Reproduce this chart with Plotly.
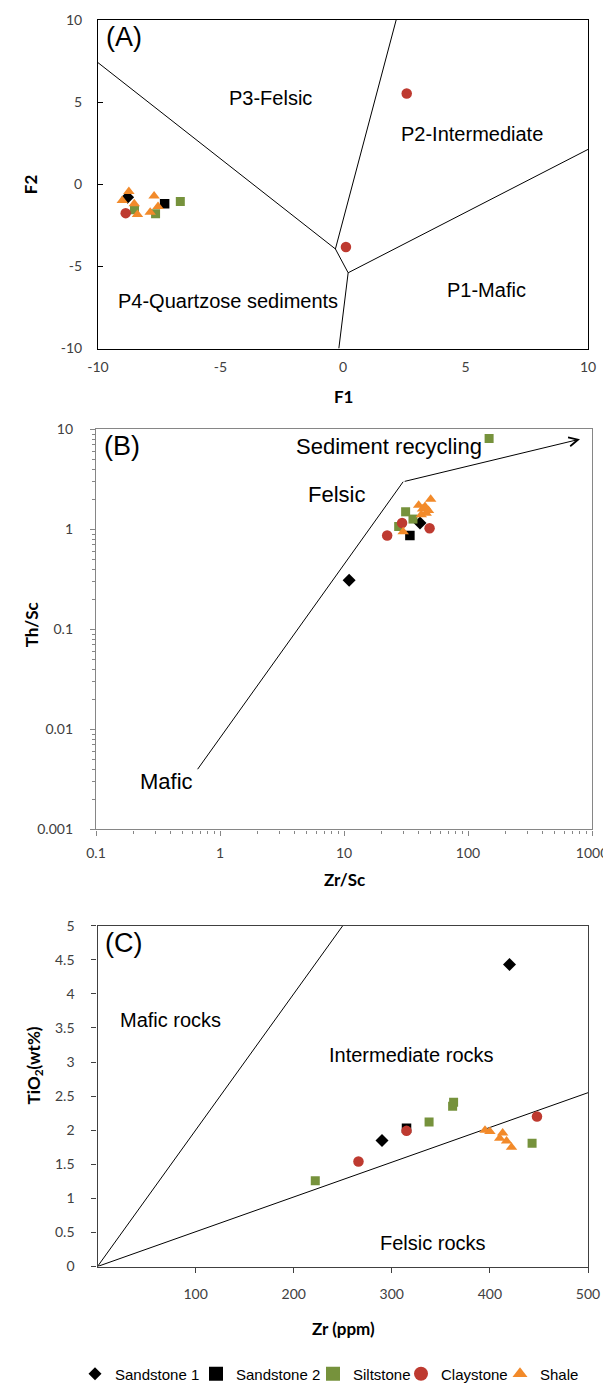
import numpy as np
import plotly.graph_objects as go

W, H = 611, 1383

# ---------------- Panel A: discriminant functions F1 / F2 ----------------
A_sand1_f1 = [-8.79]
A_sand1_f2 = [-0.79]
A_sand2_f1 = [-7.28]
A_sand2_f2 = [-1.19]
A_silt_f1 = [-6.64, -8.51, -7.65]
A_silt_f2 = [-1.05, -1.56, -1.80]
A_clay_f1 = [2.60, 0.12, -8.87]
A_clay_f2 = [5.52, -3.82, -1.76]
A_shale_f1 = [-8.74, -9.01, -8.52, -8.39, -7.71, -7.55, -7.87]
A_shale_f2 = [-0.44, -0.99, -1.19, -1.84, -0.71, -1.35, -1.70]

A_bound_f1 = [-10, -0.31, 2.17, None, -0.31, 0.21, 10, None, 0.21, -0.17]
A_bound_f2 = [7.4, -3.94, 10, None, -3.94, -5.39, 2.12, None, -5.39, -10]
A_ticks = [-10, -5, 0, 5, 10]
A_ticktext = ["-10", "-5", "0", "5", "10"]
A_labels = ["P3-Felsic", "P2-Intermediate", "P1-Mafic", "P4-Quartzose sediments"]
A_label_f1 = [-2.94, 5.27, 5.85, -4.70]
A_label_f2 = [5.27, 3.03, -6.42, -7.09]

# ---------------- Panel B: Th/Sc vs Zr/Sc ----------------
B_sand1_zr = [41, 11]
B_sand1_th = [1.16, 0.31]
B_sand2_zr = [34]
B_sand2_th = [0.87]
B_silt_zr = [148, 31.4, 36, 27.6]
B_silt_th = [8.1, 1.5, 1.27, 1.07]
B_clay_zr = [22.3, 29.4, 49]
B_clay_th = [0.87, 1.16, 1.03]
B_shale_zr = [50, 40, 43, 46, 48, 42, 45, 30]
B_shale_th = [2.0, 1.75, 1.6, 1.45, 1.55, 1.4, 1.7, 0.95]

B_bound_zr = [0.66, 30]
B_bound_th = [0.004, 3]
B_arrow_zr = [30, 800]
B_arrow_th = [3, 8]
B_yticks = [0.001, 0.01, 0.1, 1, 10]
B_yticktext = ["0.001", "0.01", "0.1", "1", "10"]
B_xticks = [0.1, 1, 10, 100, 1000]
B_xticktext = ["0.1", "1", "10", "100", "1000"]
B_labels = ["Sediment recycling", "Felsic", "Mafic"]
B_label_zr = [23.1, 8.62, 0.367]
B_label_th = [6.82, 2.22, 0.0030]

# ---------------- Panel C: TiO2 vs Zr ----------------
C_sand1_zr = [420, 290]
C_sand1_ti = [4.43, 1.85]
C_sand2_zr = [315]
C_sand2_ti = [2.03]
C_silt_zr = [222, 338, 362, 363, 443]
C_silt_ti = [1.26, 2.12, 2.35, 2.41, 1.81]
C_clay_zr = [266, 315, 448]
C_clay_ti = [1.54, 1.99, 2.20]
C_shale_zr = [395, 400, 410, 413, 417, 422]
C_shale_ti = [2.00, 1.98, 1.88, 1.96, 1.84, 1.75]

C_mafic_zr = [0, 250]
C_mafic_ti = [0, 5]
C_felsic_zr = [0, 500]
C_felsic_ti = [0, 2.55]
C_xticks = [100, 200, 300, 400, 500]
C_yticks = [0, 0.5, 1, 1.5, 2, 2.5, 3, 3.5, 4, 4.5, 5]
C_yticktext = ["0", "0.5", "1", "1.5", "2", "2.5", "3", "3.5", "4", "4.5", "5"]
C_labels = ["Mafic rocks", "Intermediate rocks", "Felsic rocks"]
C_label_zr = [21, 320, 342]
C_label_ti = [3.62, 3.10, 0.35]
C_label_anchor = ["left", "center", "center"]

series_names = ["Sandstone 1", "Sandstone 2", "Siltstone", "Claystone", "Shale"]
series_symbols = ["diamond", "square", "square", "circle", "triangle-up"]
series_colors = ["#000000", "#000000", "#76923C", "#BE3A30", "#F28A2A"]
series_sizes = [10, 9.5, 9, 10.5, 10]
legend_sizes = [10, 14, 14, 14, 13]
legend_text_x = [107, 228, 345, 433, 532]

A_data = [(A_sand1_f1, A_sand1_f2), (A_sand2_f1, A_sand2_f2), (A_silt_f1, A_silt_f2),
          (A_clay_f1, A_clay_f2), (A_shale_f1, A_shale_f2)]
B_data = [(B_sand1_zr, B_sand1_th), (B_sand2_zr, B_sand2_th), (B_silt_zr, B_silt_th),
          (B_clay_zr, B_clay_th), (B_shale_zr, B_shale_th)]
C_data = [(C_sand1_zr, C_sand1_ti), (C_sand2_zr, C_sand2_ti), (C_silt_zr, C_silt_ti),
          (C_clay_zr, C_clay_ti), (C_shale_zr, C_shale_ti)]


def px(x):
    return x / W


def py(y):
    return 1 - y / H


LINE = dict(color="#000000", width=1)
TEXT_FONT = "Liberation Sans, Arial, sans-serif"
TICK_FONT = dict(family="Lato, Carlito, sans-serif", size=14, color="#404040")
TITLE_FONT = dict(family="Lato, Carlito, sans-serif", size=17, color="#000000")

fig = go.Figure()

# boundary lines
fig.add_trace(go.Scatter(x=A_bound_f1, y=A_bound_f2, mode="lines", line=LINE,
                         showlegend=False, hoverinfo="skip", xaxis="x", yaxis="y"))
fig.add_trace(go.Scatter(x=B_bound_zr, y=B_bound_th, mode="lines", line=LINE,
                         showlegend=False, hoverinfo="skip", xaxis="x2", yaxis="y2"))
fig.add_trace(go.Scatter(x=C_mafic_zr, y=C_mafic_ti, mode="lines", line=LINE,
                         showlegend=False, hoverinfo="skip", xaxis="x3", yaxis="y3"))
fig.add_trace(go.Scatter(x=C_felsic_zr, y=C_felsic_ti, mode="lines", line=LINE,
                         showlegend=False, hoverinfo="skip", xaxis="x3", yaxis="y3"))

for panel, (data, xa, ya) in enumerate([(A_data, "x", "y"), (B_data, "x2", "y2"), (C_data, "x3", "y3")]):
    for i, (xs, ys) in enumerate(data):
        fig.add_trace(go.Scatter(
            x=xs, y=ys, mode="markers", name=series_names[i],
            marker=dict(symbol=series_symbols[i], color=series_colors[i], size=series_sizes[i],
                        line=dict(width=0)),
            showlegend=False, xaxis=xa, yaxis=ya))

# legend-only entries (one legend per entry to mimic the compact layout)
for i in range(5):
    lname = "legend" if i == 0 else "legend%d" % (i + 1)
    fig.add_trace(go.Scatter(
        x=[None], y=[None], mode="markers", name=series_names[i],
        marker=dict(symbol=series_symbols[i], color=series_colors[i], size=legend_sizes[i],
                    line=dict(width=0)),
        showlegend=True, legend=lname, xaxis="x3", yaxis="y3"))

legends = {}
for i in range(5):
    key = "legend" if i == 0 else "legend%d" % (i + 1)
    legends[key] = dict(x=px(legend_text_x[i] - 40), xanchor="left", y=py(1372), yanchor="middle",
                        orientation="h", bgcolor="rgba(0,0,0,0)",
                        font=dict(family=TEXT_FONT, size=15, color="#000000"),
                        itemwidth=30, tracegroupgap=0)

common_axis = dict(showgrid=False, zeroline=False, automargin=False, showline=True, mirror=True,
                   tickfont=TICK_FONT)

layout = dict(
    width=W, height=H,
    margin=dict(l=0, r=0, t=0, b=0),
    paper_bgcolor="#ffffff", plot_bgcolor="#ffffff",
    template="none",
    showlegend=True,
    xaxis=dict(domain=[px(90), px(580)], range=[-10, 10], anchor="y",
               tickvals=A_ticks, ticktext=A_ticktext, ticks="",
               linecolor="#000000", linewidth=1, ticklabelstandoff=6, **common_axis),
    yaxis=dict(domain=[py(342), py(12)], range=[-10, 10], anchor="x",
               tickvals=A_ticks, ticktext=A_ticktext, ticks="inside", ticklen=5, tickcolor="#000000",
               linecolor="#000000", linewidth=1, ticklabelstandoff=12, **common_axis),
    xaxis2=dict(domain=[px(88), px(584)], type="log", range=[-1, 3], anchor="y2",
                tickvals=B_xticks, ticktext=B_xticktext, ticks="outside", ticklen=5, tickcolor="#868686",
                minor=dict(ticks="outside", ticklen=3, tickcolor="#868686", dtick="D1", showgrid=False),
                linecolor="#868686", linewidth=1.3, ticklabelstandoff=6, **common_axis),
    yaxis2=dict(domain=[py(825), py(423.3)], type="log", range=[-3, 1], anchor="x2",
                tickvals=B_yticks, ticktext=B_yticktext, ticks="outside", ticklen=5, tickcolor="#868686",
                minor=dict(ticks="outside", ticklen=3, tickcolor="#868686", dtick="D1", showgrid=False),
                linecolor="#868686", linewidth=1.3, ticklabelstandoff=14, **common_axis),
    xaxis3=dict(domain=[px(89.5), px(580)], range=[0, 500], anchor="y3",
                tickvals=C_xticks, ticks="outside", ticklen=5, tickcolor="#404040",
                linecolor="#404040", linewidth=1.3, ticklabelstandoff=10, **common_axis),
    yaxis3=dict(domain=[py(1264), py(921.7)], range=[0, 5], anchor="x3",
                tickvals=C_yticks, ticktext=C_yticktext, ticks="outside", ticklen=5, tickcolor="#404040",
                linecolor="#404040", linewidth=1.3, ticklabelstandoff=14, **common_axis),
)
layout.update(legends)
fig.update_layout(**layout)

ann = []
# panel letters
for letter, xr, yr in [("(A)", "x", "y"), ("(B)", "x2", "y2"), ("(C)", "x3", "y3")]:
    ann.append(dict(text=letter, xref=xr + " domain", yref=yr + " domain", x=0.012, y=1.0,
                    xanchor="left", yanchor="top", showarrow=False,
                    font=dict(family=TEXT_FONT, size=27, color="#000000")))
# region labels
for t, x, y in zip(A_labels, A_label_f1, A_label_f2):
    ann.append(dict(text=t, x=x, y=y, xref="x", yref="y", showarrow=False,
                    font=dict(family=TEXT_FONT, size=20, color="#000000")))
for t, x, y in zip(B_labels, B_label_zr, B_label_th):
    ann.append(dict(text=t, x=np.log10(x), y=np.log10(y), xref="x2", yref="y2", showarrow=False,
                    font=dict(family=TEXT_FONT, size=22, color="#000000")))
for t, x, y, a in zip(C_labels, C_label_zr, C_label_ti, C_label_anchor):
    ann.append(dict(text=t, x=x, y=y, xref="x3", yref="y3", xanchor=a, showarrow=False,
                    font=dict(family=TEXT_FONT, size=20, color="#000000")))
# sediment recycling arrow
ann.append(dict(x=np.log10(B_arrow_zr[1]), y=np.log10(B_arrow_th[1]),
                ax=np.log10(B_arrow_zr[0]), ay=np.log10(B_arrow_th[0]),
                xref="x2", yref="y2", axref="x2", ayref="y2", text="",
                showarrow=True, arrowhead=5, arrowsize=1.8, arrowwidth=1, arrowcolor="#000000"))
# axis titles
for t, x, y, rot in [("F2", 22, 177, -90), ("F1", 335, 390, 0),
                     ("Th/Sc", 23, 620, -90), ("Zr/Sc", 336, 875, 0),
                     ("TiO<sub>2</sub>(wt%)", 27, 1062, -90), ("Zr (ppm)", 335, 1326, 0)]:
    ann.append(dict(text="<b>%s</b>" % t, x=px(x), y=py(y), xref="paper", yref="paper",
                    showarrow=False, textangle=rot, xanchor="center", yanchor="middle",
                    font=TITLE_FONT))
fig.update_layout(annotations=ann)

fig.write_html("out.html")
